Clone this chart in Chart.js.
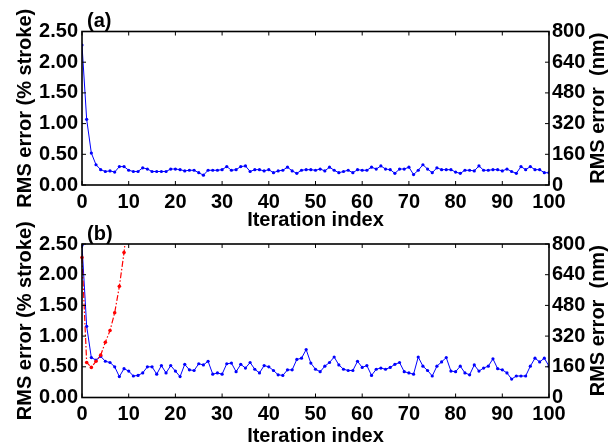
<!DOCTYPE html>
<html>
<head>
<meta charset="utf-8">
<script src="https://cdn.jsdelivr.net/npm/chart.js@4.4.1/dist/chart.umd.min.js"></script>
<style>
  body { margin: 0; background: #fff; }
  #wrap { position: relative; width: 616px; height: 443px; }
  canvas { position: absolute; left: 0; }
</style>
</head>
<body>
<div id="wrap">
  <canvas id="chartA" width="616" height="232" style="top:0"></canvas>
  <canvas id="chartB" width="616" height="243" style="top:200px"></canvas>
</div>
<script>
// (a) RMS error per iteration, % stroke
const rmsA = [2.28,1.07,0.52,0.33,0.25,0.22,0.23,0.21,0.30,0.30,
  0.24,0.22,0.22,0.28,0.26,0.22,0.22,0.22,0.22,0.26,
  0.26,0.25,0.23,0.24,0.24,0.20,0.16,0.24,0.24,0.24,
  0.25,0.30,0.24,0.25,0.30,0.31,0.22,0.25,0.25,0.23,
  0.25,0.20,0.23,0.24,0.29,0.23,0.19,0.24,0.25,0.25,
  0.24,0.26,0.23,0.29,0.24,0.20,0.22,0.24,0.20,0.25,
  0.24,0.24,0.29,0.26,0.31,0.26,0.25,0.19,0.26,0.26,
  0.29,0.17,0.24,0.33,0.26,0.20,0.28,0.25,0.25,0.25,
  0.21,0.19,0.24,0.24,0.23,0.31,0.24,0.24,0.25,0.25,
  0.23,0.26,0.22,0.19,0.30,0.25,0.30,0.25,0.25,0.20,0.20];

// (b) blue curve
const rmsB = [2.48,1.16,0.65,0.61,0.67,0.59,0.57,0.50,0.34,0.47,
  0.43,0.35,0.36,0.40,0.50,0.50,0.38,0.52,0.40,0.52,
  0.43,0.34,0.54,0.45,0.44,0.55,0.53,0.59,0.38,0.40,
  0.38,0.55,0.56,0.42,0.54,0.48,0.57,0.46,0.40,0.52,
  0.50,0.44,0.37,0.36,0.45,0.45,0.62,0.64,0.78,0.56,
  0.46,0.42,0.51,0.57,0.66,0.53,0.46,0.44,0.44,0.59,
  0.49,0.52,0.36,0.46,0.48,0.46,0.49,0.54,0.57,0.42,
  0.40,0.38,0.66,0.51,0.44,0.35,0.51,0.58,0.65,0.43,
  0.42,0.51,0.40,0.37,0.53,0.43,0.48,0.51,0.63,0.47,
  0.45,0.40,0.30,0.35,0.35,0.35,0.51,0.64,0.58,0.64,0.51];

// (b) red dash-dot curve (diverges, last point is above the axis)
const rmsBdiv = [2.28,0.57,0.49,0.59,0.69,0.90,1.09,1.38,1.81,2.36,3.1];

const xTicks = [0, 100, 10];      // min, max, step
const yTicks = [0, 2.5, 0.5];     // % stroke
const y2Ticks = [0, 800, 160];    // nm

const iterLabels = [];
for (let i = 0; i < rmsA.length; i++) iterLabels.push(i);

const bold = { family: '"Liberation Sans", Arial, sans-serif', size: 20, weight: 'bold' };

// box around the plot, inward tick marks, panel tag and right title
const framePlugin = {
  id: 'frame',
  afterDraw(chart, args, opts) {
    const { ctx, chartArea: a, scales } = chart;
    ctx.save();
    ctx.strokeStyle = '#000';
    ctx.lineWidth = 1;
    ctx.beginPath();
    scales.x.ticks.forEach(t => {
      const px = scales.x.getPixelForValue(t.value);
      ctx.moveTo(px, a.bottom); ctx.lineTo(px, a.bottom - 4);
      ctx.moveTo(px, a.top); ctx.lineTo(px, a.top + 4);
    });
    scales.y.ticks.forEach(t => {
      const py = scales.y.getPixelForValue(t.value);
      ctx.moveTo(a.left, py); ctx.lineTo(a.left + 4, py);
    });
    scales.y2.ticks.forEach(t => {
      const py = scales.y2.getPixelForValue(t.value);
      ctx.moveTo(a.right, py); ctx.lineTo(a.right - 4, py);
    });
    ctx.stroke();
    ctx.lineWidth = 1.6;
    ctx.strokeRect(a.left, a.top, a.right - a.left, a.bottom - a.top);

    ctx.fillStyle = '#000';
    ctx.font = 'bold 20px "Liberation Sans", Arial, sans-serif';
    ctx.textBaseline = 'middle';
    ctx.textAlign = 'left';
    ctx.fillText(opts.tag, a.left + 5, a.top - 10);

    ctx.translate(598, (a.top + a.bottom) / 2);
    ctx.rotate(-Math.PI / 2);
    ctx.textAlign = 'center';
    ctx.fillText('RMS error  (nm)', 0, 0);
    ctx.restore();
  }
};

function makeChart(id, datasets, tag, topPad, axisH, titlePad) {
  return new Chart(document.getElementById(id), {
    type: 'line',
    data: { labels: iterLabels, datasets: datasets },
    options: {
      responsive: false,
      animation: false,
      layout: { padding: { top: topPad, left: 0, right: 0, bottom: 0 } },
      plugins: { legend: { display: false }, tooltip: { enabled: false }, frame: { tag: tag } },
      scales: {
        x: {
          type: 'linear', min: xTicks[0], max: xTicks[1],
          ticks: { stepSize: xTicks[2], padding: 5, maxRotation: 0, autoSkip: false, color: '#000', font: bold },
          grid: { display: false, drawTicks: false },
          border: { display: false },
          title: { display: true, text: 'Iteration index', color: '#000', font: bold, padding: { top: 0, bottom: titlePad } },
          afterFit: s => { s.height = axisH; }
        },
        y: {
          position: 'left', min: yTicks[0], max: yTicks[1],
          ticks: { stepSize: yTicks[2], padding: 4, color: '#000', font: bold, callback: v => Number(v).toFixed(2) },
          grid: { display: false, drawTicks: false },
          border: { display: false },
          title: { display: true, text: 'RMS error (% stroke)', color: '#000', font: bold, padding: { top: 13, bottom: 0 } },
          afterFit: s => { s.width = 82; }
        },
        y2: {
          position: 'right', min: y2Ticks[0], max: y2Ticks[1],
          ticks: { stepSize: y2Ticks[2], padding: 3, color: '#000', font: bold },
          grid: { display: false, drawTicks: false },
          border: { display: false },
          afterFit: s => { s.width = 67; }
        }
      }
    },
    plugins: [framePlugin]
  });
}

const blueStyle = {
  borderColor: '#0000ff', backgroundColor: '#0000ff', borderWidth: 1,
  pointRadius: 1.6, pointBorderWidth: 0, pointBackgroundColor: '#0000ff', tension: 0, yAxisID: 'y'
};

makeChart('chartA', [
  Object.assign({ label: 'RMS error', data: rmsA }, blueStyle)
], '(a)', 31.5, 47, 0);

makeChart('chartB', [
  {
    label: 'diverging', data: rmsBdiv, yAxisID: 'y', order: 0,
    borderColor: '#ff0000', backgroundColor: '#ff0000', borderWidth: 1.2, borderDash: [6, 2, 1.5, 2],
    pointRadius: 1.8, pointBorderWidth: 0, pointBackgroundColor: '#ff0000', tension: 0,
    clip: { left: 5, right: 5, top: 0, bottom: 5 }
  },
  Object.assign({ label: 'RMS error', data: rmsB, order: 1 }, blueStyle)
], '(b)', 44, 45.5, -5);
</script>
</body>
</html>
